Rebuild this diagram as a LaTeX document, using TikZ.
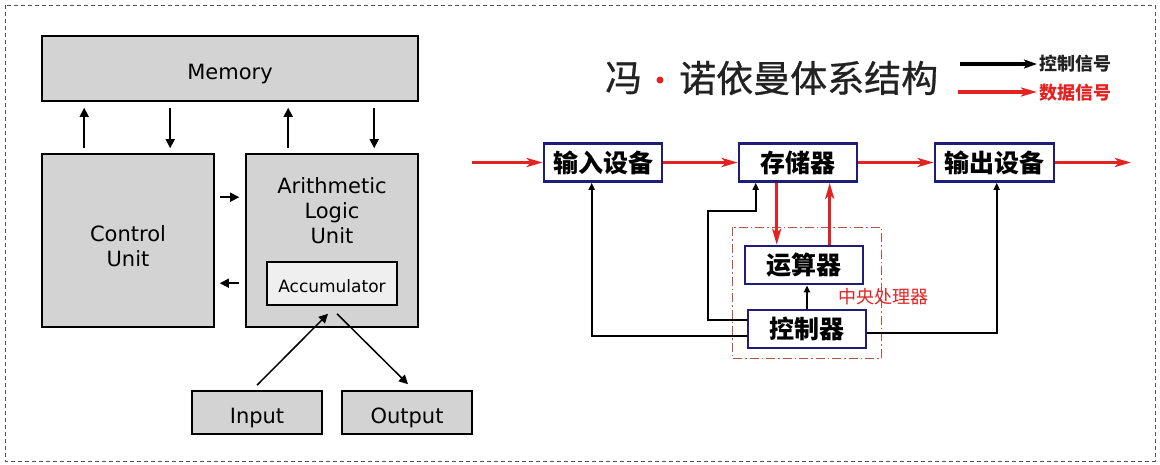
\documentclass[tikz,border=0pt]{standalone}
\usepackage{fontspec}
\setmainfont{DejaVu Sans}
\newfontfamily\cjk{Noto Sans CJK SC}
\newfontfamily\cjktitle[FakeBold=0.8]{Noto Sans CJK SC}
\usetikzlibrary{arrows.meta,calc}
\definecolor{boxgray}{HTML}{D3D3D3}
\definecolor{accgray}{HTML}{EFEFEF}
\definecolor{navy}{HTML}{1E1E78}
\definecolor{sigred}{HTML}{E32222}
\definecolor{cpured}{HTML}{B5544A}
\definecolor{framegray}{HTML}{555555}
\definecolor{titlegray}{HTML}{222222}
\begin{document}
\begin{tikzpicture}[x=1pt,y=-1pt,
  lbox/.style={draw=black, line width=1.6pt, fill=boxgray, inner sep=0pt, font=\fontsize{21}{25}\selectfont, align=center, text height=22pt, text depth=0pt},
  ltext/.style={inner sep=0pt, font=\fontsize{21}{25}\selectfont, align=center},
  larr/.style={line width=1.5pt, -{Triangle[length=9pt,width=9pt]}},
  rbox/.style={draw=navy, line width=2.6pt, fill=white, inner sep=0pt, minimum width=118pt, minimum height=38pt, font=\cjk\bfseries\fontsize{25}{25}\selectfont},
  redarr/.style={draw=sigred, line width=3.4pt, -{Stealth[length=16pt,width=9pt,inset=4pt]}},
  blkarr/.style={draw=black, line width=2.4pt, -{Triangle[length=7pt,width=6pt]}},
]
\useasboundingbox (0,0) rectangle (1160,464);
\draw[framegray, line width=0.8pt, dash pattern=on 4pt off 3pt] (5,5) rectangle (1155,461);

% ---------- left diagram ----------
\node[lbox, minimum width=376pt, minimum height=65pt] (mem) at (230,68.5) {Memory};
\node[lbox, minimum width=172pt, minimum height=173pt] (cu) at (128,240.5) {};
\node[ltext] (cutext) at (128,246) {Control\\Unit};
\node[lbox, minimum width=172pt, minimum height=173pt] (alu) at (332,240.5) {};
\node[ltext] (alutext) at (332,211) {Arithmetic\\Logic\\Unit};
\node[lbox, fill=accgray, minimum width=130pt, minimum height=43pt, font=\fontsize{17}{20}\selectfont, text height=17pt] (acc) at (332,283.5) {Accumulator};
\node[lbox, minimum width=130pt, minimum height=43pt] (in) at (257,412.5) {Input};
\node[lbox, minimum width=130pt, minimum height=43pt] (out) at (407,412.5) {Output};

\draw[larr] ($(cu.north west)+(43,-5)$) -- ($(mem.south west)+(43,6)$);
\draw[larr] ($(mem.south west)+(129,6)$) -- ($(cu.north west)+(129,-5)$);
\draw[larr] ($(alu.north west)+(43,-5)$) -- ($(mem.south west)+(247,6)$);
\draw[larr] ($(mem.south west)+(333,6)$) -- ($(alu.north west)+(129,-5)$);
\draw[larr] ($(cu.north east)+(5,44)$) -- ($(alu.north west)+(-6,44)$);
\draw[larr] ($(alu.north west)+(-6,130)$) -- ($(cu.north east)+(5,130)$);
\draw[larr] ($(in.north)+(0,-5)$) -- ($(acc.south)+(-4,8)$);
\draw[larr] ($(acc.south)+(5,8)$) -- ($(out.north)+(1,-6)$);

% ---------- right diagram ----------
\node[font=\cjktitle\fontsize{37}{37}\selectfont, inner sep=0pt, anchor=west, text=titlegray] (t1) at (605,78) {冯};
\node[circle, fill=sigred, minimum size=7pt, inner sep=0pt] (tdot) at (660,80) {};
\node[font=\cjktitle\fontsize{37}{37}\selectfont, inner sep=0pt, anchor=west, text=titlegray] (t2) at (679,78) {诺依曼体系结构};

\coordinate (lg1s) at (960,64); \coordinate (lg1e) at (1037,64);
\coordinate (lg2s) at (958,92); \coordinate (lg2e) at (1037,92);
\draw[line width=3.5pt, -{Stealth[length=13pt,width=9pt,inset=3pt]}] (lg1s) -- (lg1e);
\draw[redarr, line width=3.5pt] (lg2s) -- (lg2e);
\node[anchor=west, inner sep=0pt, font=\cjk\bfseries\fontsize{18}{18}\selectfont, text=titlegray] (lgc) at (1039,64) {控制信号};
\node[anchor=west, inner sep=0pt, font=\cjk\bfseries\fontsize{18}{18}\selectfont, text=sigred] (lgd) at (1039,93) {数据信号};

\draw[cpured, line width=1pt, dash pattern=on 9pt off 3pt on 1.5pt off 3pt] (732,227) rectangle (881,358);

\node[rbox] (inp) at (603,162.5) {输入设备};
\node[rbox] (sto) at (798,162.5) {存储器};
\node[rbox, minimum width=119pt] (outp) at (994.5,162.5) {输出设备};
\node[rbox] (alu2) at (804,265) {运算器};
\node[rbox] (cu2) at (807,329) {控制器};
\node[text=sigred, font=\cjk\fontsize{18}{18}\selectfont, anchor=west, inner sep=0pt] (cputext) at (838,297) {中央处理器};

\coordinate (rin) at (472,162.5);
\coordinate (rout) at (1131,162.5);
\draw[redarr] (rin) -- (inp.west);
\draw[redarr] (inp.east) -- (sto.west);
\draw[redarr] (sto.east) -- (outp.west);
\draw[redarr] (outp.east) -- (rout);
\draw[redarr] ($(sto.south west)+(39,0)$) -- ($(alu2.north west)+(33,0)$);
\draw[redarr] ($(alu2.north west)+(86,0)$) -- ($(sto.south west)+(92,0)$);

\coordinate (bend) at (708,211);
\draw[blkarr] (cu2.north) -- (cu2.north |- alu2.south);
\draw[blkarr] ($(cu2.west)+(0,7)$) -| ($(inp.south west)+(49,0)$);
\draw[blkarr] ($(cu2.west)+(0,-9)$) -| (bend) -| ($(sto.south west)+(18,0)$);
\draw[blkarr] ($(cu2.east)+(0,4)$) -| ($(outp.south west)+(63,0)$);
\end{tikzpicture}
\end{document}
